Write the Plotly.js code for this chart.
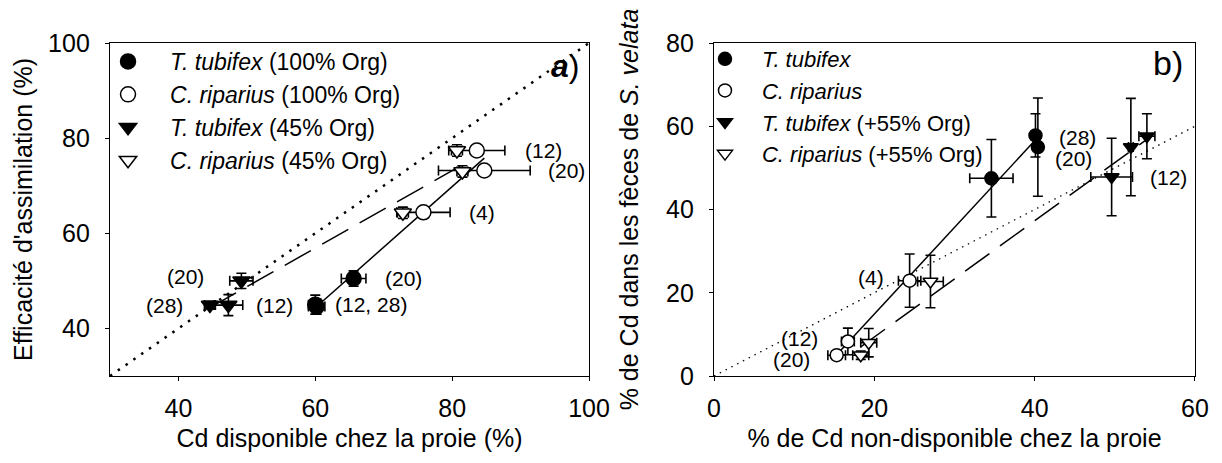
<!DOCTYPE html>
<html><head><meta charset="utf-8">
<script src="https://cdn.plot.ly/plotly-3.0.1.min.js"></script>
<style>html,body{margin:0;padding:0;background:#fff}#chart{width:1222px;height:463px}</style>
</head><body><div id="chart"></div>
<script>
// ---------- Panel a: Cd disponible (%) vs efficacité d'assimilation (%) ----------
const aTub100X = [60.0, 60.2, 65.6];
const aTub100Y = [45.0, 44.6, 50.5];
const aTub100Ex = [1.0, 1.2, 1.8];
const aTub100Ey = [2.0, 1.6, 1.6];
const aTub100Lab = ["(12, 28)", "", "(20)"];

const aRip100X = [75.8, 83.6, 84.7];
const aRip100Y = [64.4, 77.4, 73.2];
const aRip100Ex = [3.9, 4.1, 6.7];
const aRip100Ey = [0.8, 0.8, 0.8];
const aRip100Lab = ["(4)", "(12)", "(20)"];

const aTub45X = [47.3, 49.2, 44.6];
const aTub45Y = [44.9, 50.0, 44.9];
const aTub45Ex = [2.1, 1.7, 0.8];
const aTub45Ey = [2.2, 1.6, 0.8];
const aTub45Lab = ["(12)", "(20)", "(28)"];

const aRip45X = [72.8, 80.7, 81.5];
const aRip45Y = [64.3, 77.4, 73.0];
const aRip45Ex = [0.8, 0.8, 0.8];
const aRip45Ey = [1.2, 1.2, 1.2];

const aAxisRange = [30, 100];   // 1:1 reference line (dotted)

// ---------- Panel b: Cd non-disponible (%) vs Cd dans les fèces (%) ----------
const bTubX = [34.6, 40.1, 40.4];
const bTubY = [47.5, 57.8, 55.0];
const bTubEx = [2.7, 0.5, 0.5];
const bTubEy = [9.3, 5.2, 11.8];
const bTubLab = ["", "(28)", "(20)"];

const bRipX = [24.4, 16.7, 15.3];
const bRipY = [22.9, 8.3, 5.0];
const bRipEx = [1.4, 0.8, 1.1];
const bRipEy = [6.4, 3.2, 1.0];
const bRipLab = ["(4)", "(12)", "(20)"];

const bTub55X = [49.6, 52.0, 54.0];
const bTub55Y = [47.8, 55.0, 57.6];
const bTub55Ex = [2.6, 0.3, 1.0];
const bTub55Ey = [9.3, 11.7, 5.4];
const bTub55Lab = ["(12)", "", ""];

const bRip55X = [27.0, 19.3, 18.3];
const bRip55Y = [22.7, 8.0, 5.0];
const bRip55Ex = [1.6, 1.0, 1.0];
const bRip55Ey = [6.3, 3.4, 1.0];

const bAxisRange = [0, 60];     // 1:1 reference line (dotted)

// ---------- helpers ----------
function linfit(xs, ys) {
  const n = xs.length;
  const mx = xs.reduce((a, b) => a + b, 0) / n;
  const my = ys.reduce((a, b) => a + b, 0) / n;
  let sxy = 0, sxx = 0;
  for (let i = 0; i < n; i++) { sxy += (xs[i] - mx) * (ys[i] - my); sxx += (xs[i] - mx) ** 2; }
  const b = sxy / sxx, a = my - b * mx;
  const x0 = Math.min(...xs), x1 = Math.max(...xs);
  return { x: [x0, x1], y: [a + b * x0, a + b * x1] };
}

const FONT = "Arial, 'Liberation Sans', sans-serif";
const BLACK = "#000";

function pts(name, xs, ys, ex, ey, symbol, filled, size, xa, ya, legend) {
  return {
    type: "scatter", mode: "markers", name: name, x: xs, y: ys,
    xaxis: xa, yaxis: ya, legend: legend,
    marker: { symbol: symbol, size: size, color: filled ? BLACK : "#fff",
              line: { color: BLACK, width: 1.5 } },
    error_x: { type: "data", array: ex, visible: true, color: BLACK, thickness: 1.6, width: 5 },
    error_y: { type: "data", array: ey, visible: true, color: BLACK, thickness: 1.6, width: 5 },
    hoverinfo: "x+y"
  };
}
function line(xs, ys, dash, width, xa, ya) {
  return { type: "scatter", mode: "lines", x: xs, y: ys, xaxis: xa, yaxis: ya,
           line: { color: BLACK, width: width, dash: dash }, showlegend: false, hoverinfo: "skip" };
}

const fitA100 = linfit(aTub100X.concat(aRip100X), aTub100Y.concat(aRip100Y));
const fitA45 = linfit(aTub45X.concat(aRip45X), aTub45Y.concat(aRip45Y));
const fitBc = linfit(bTubX.concat(bRipX), bTubY.concat(bRipY));
const fitBt = linfit(bTub55X.concat(bRip55X), bTub55Y.concat(bRip55Y));

const data = [
  line(aAxisRange, aAxisRange, "2.5px,7px", 2.5, "x", "y"),
  line(fitA100.x, fitA100.y, "solid", 1.5, "x", "y"),
  line(fitA45.x, fitA45.y, "30px,13px", 1.5, "x", "y"),
  line(bAxisRange, bAxisRange, "1.5px,5px", 1.3, "x2", "y2"),
  line(fitBc.x, fitBc.y, "solid", 1.5, "x2", "y2"),
  line(fitBt.x, fitBt.y, "30px,13px", 1.5, "x2", "y2"),

  pts("<i>T. tubifex</i> (100% Org)", aTub100X, aTub100Y, aTub100Ex, aTub100Ey, "circle", true, 15, "x", "y", "legend"),
  pts("<i>C. riparius</i> (100% Org)", aRip100X, aRip100Y, aRip100Ex, aRip100Ey, "circle", false, 15, "x", "y", "legend"),
  pts("<i>T. tubifex</i> (45% Org)", aTub45X, aTub45Y, aTub45Ex, aTub45Ey, "triangle-down", true, 15, "x", "y", "legend"),
  pts("<i>C. riparius</i> (45% Org)", aRip45X, aRip45Y, aRip45Ex, aRip45Ey, "triangle-down", false, 15, "x", "y", "legend"),

  pts("<i>T. tubifex</i>", bTubX, bTubY, bTubEx, bTubEy, "circle", true, 13, "x2", "y2", "legend2"),
  pts("<i>C. riparius</i>", bRipX, bRipY, bRipEx, bRipEy, "circle", false, 13, "x2", "y2", "legend2"),
  pts("<i>T. tubifex</i> (+55% Org)", bTub55X, bTub55Y, bTub55Ex, bTub55Ey, "triangle-down", true, 13, "x2", "y2", "legend2"),
  pts("<i>C. riparius</i> (+55% Org)", bRip55X, bRip55Y, bRip55Ex, bRip55Ey, "triangle-down", false, 13, "x2", "y2", "legend2")
];

// point labels (sampling day), placed beside their point
const annotations = [];
function labels(xs, ys, labs, offs, xa, ya) {
  labs.forEach((t, i) => {
    if (!t) return;
    const o = offs[i];
    annotations.push({ x: xs[i], y: ys[i], xref: xa, yref: ya, text: t, showarrow: false,
      xanchor: o[0] < 0 ? "right" : "left", xshift: o[0], yshift: o[1],
      font: { family: FONT, size: 21, color: BLACK } });
  });
}
labels(aTub100X, aTub100Y, aTub100Lab, [[18, 0], [0, 0], [29, 0]], "x", "y");
labels(aRip100X, aRip100Y, aRip100Lab, [[44, 0], [46, 0], [62, 0]], "x", "y");
labels(aTub45X, aTub45Y, aTub45Lab, [[26, 0], [-35, 4], [-25, 0]], "x", "y");
labels(bTubX, bTubY, bTubLab, [[0, 0], [22, -2], [15, -11]], "x2", "y2");
labels(bRipX, bRipY, bRipLab, [[-24, 3], [-28, 3], [-25, -4]], "x2", "y2");
labels(bTub55X, bTub55Y, bTub55Lab, [[36, 0], [0, 0], [0, 0]], "x2", "y2");

annotations.push({ xref: "paper", yref: "paper", x: 0.419, y: 0.93, text: "<b><i>a</i></b>)", showarrow: false,
  xanchor: "center", yanchor: "middle", font: { family: FONT, size: 32, color: BLACK } });
annotations.push({ xref: "paper", yref: "paper", x: 0.975, y: 0.94, text: "b)", showarrow: false,
  xanchor: "center", yanchor: "middle", font: { family: FONT, size: 34, color: BLACK } });

function axis(extra) {
  return Object.assign({
    showline: true, linecolor: BLACK, linewidth: 1.2, mirror: true,
    ticks: "outside", ticklen: 4, tickwidth: 1, tickcolor: BLACK,
    showgrid: false, zeroline: false, tick0: 0, dtick: 20,
    tickfont: { family: FONT, size: 25, color: BLACK }, ticklabelstandoff: 6
  }, extra);
}

const layout = {
  width: 1222, height: 463,
  margin: { l: 110, r: 27, t: 43, b: 87 },
  paper_bgcolor: "#fff", plot_bgcolor: "#fff",
  font: { family: FONT, color: BLACK },
  xaxis: axis({ domain: [0, 0.4415], range: [30, 100], anchor: "y",
    title: { text: "Cd disponible chez la proie (%)", font: { family: FONT, size: 25, color: BLACK }, standoff: 8 } }),
  yaxis: axis({ domain: [0, 1], range: [30, 100], anchor: "x", ticklabelstandoff: 10,
    title: { text: "Efficacité d'assimilation (%)", font: { family: FONT, size: 25, color: BLACK }, standoff: 8 } }),
  xaxis2: axis({ domain: [0.5567, 1], range: [0, 60], anchor: "y2",
    title: { text: "% de Cd non-disponible chez la proie", font: { family: FONT, size: 25, color: BLACK }, standoff: 8 } }),
  yaxis2: axis({ domain: [0, 1], range: [0, 80], anchor: "x2", ticklabelstandoff: 10,
    title: { text: "% de Cd dans les fèces de <i>S. velata</i>", font: { family: FONT, size: 25, color: BLACK }, standoff: 20 } }),
  legend: { x: -0.0221, y: 1.009, xanchor: "left", yanchor: "top", bgcolor: "rgba(0,0,0,0)",
    itemwidth: 74, tracegroupgap: 0, font: { family: FONT, size: 23, color: BLACK } },
  legend2: { x: 0.5327, y: 1.015, xanchor: "left", yanchor: "top", bgcolor: "rgba(0,0,0,0)",
    itemwidth: 64, tracegroupgap: 0, font: { family: FONT, size: 22, color: BLACK } },
  annotations: annotations,
  showlegend: true
};

Plotly.newPlot("chart", data, layout, { displayModeBar: false, staticPlot: true });
</script>
</body></html>
